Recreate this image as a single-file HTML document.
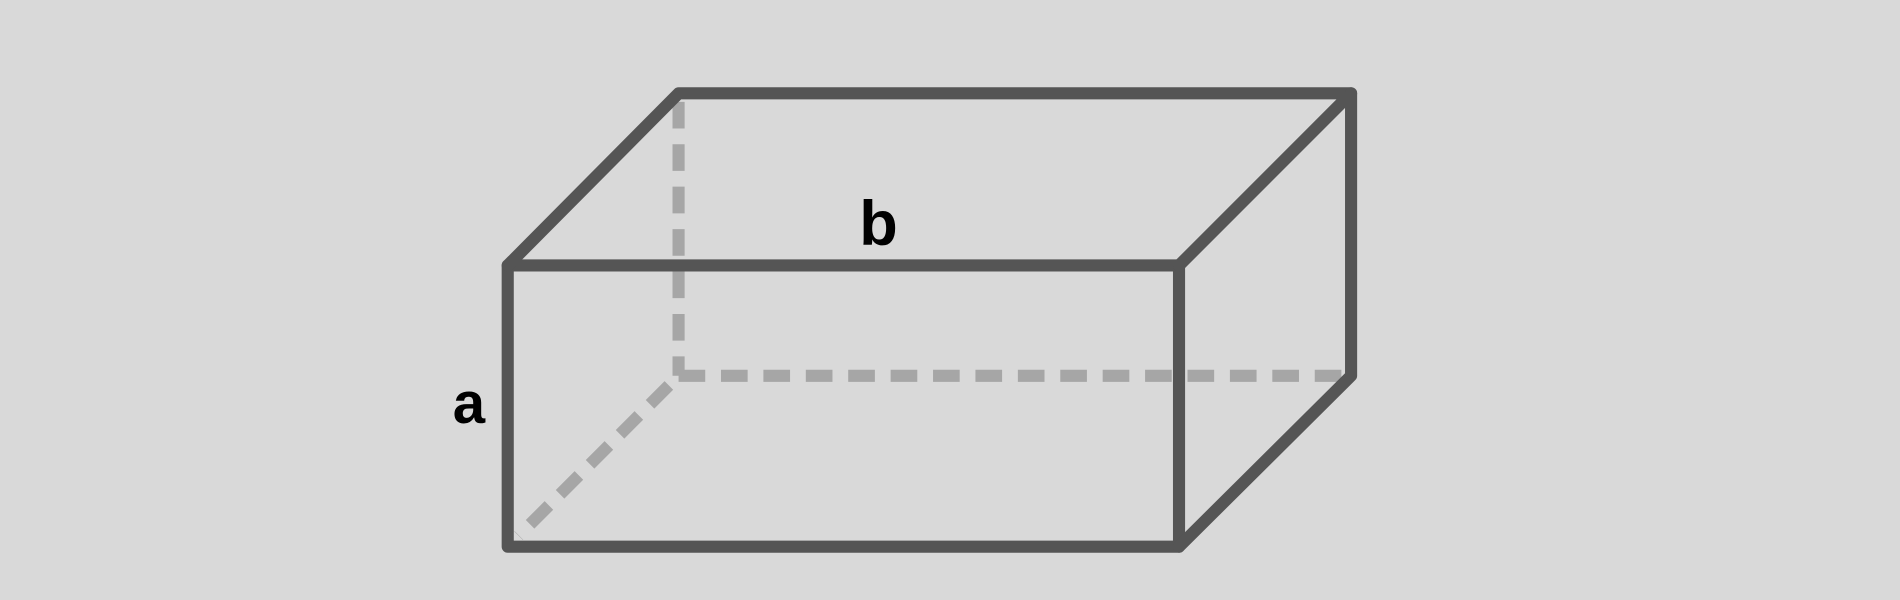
<!DOCTYPE html>
<html><head><meta charset="utf-8"><style>
html,body{margin:0;padding:0;background:#d9d9d9;width:1900px;height:600px;overflow:hidden}
svg{display:block}
</style></head><body>
<svg width="1900" height="600" viewBox="0 0 1568 495" preserveAspectRatio="none">
<rect x="0" y="0" width="1568" height="495" fill="#d9d9d9"/>
<g stroke="#a6a6a6" stroke-width="10" fill="none" stroke-dasharray="22 13">
<line x1="560" y1="84" x2="560" y2="310"/>
<line x1="560" y1="310" x2="1112" y2="310"/>
<line x1="552" y1="318" x2="428" y2="442"/>
</g>
<g stroke="#555555" stroke-width="10" fill="none" stroke-linejoin="round" stroke-linecap="round">
<rect x="419" y="219" width="554" height="232"/>
<polyline points="419,219 560,77 1115,77 973,219"/>
<polyline points="1115,77 1115,310 973,451"/>
</g>
<text x="725" y="202" font-family="Liberation Sans, sans-serif" font-weight="bold" font-size="52" text-anchor="middle" fill="#000">b</text>
<text x="387" y="349" font-family="Liberation Sans, sans-serif" font-weight="bold" font-size="48" text-anchor="middle" fill="#000">a</text>
</svg>
</body></html>
